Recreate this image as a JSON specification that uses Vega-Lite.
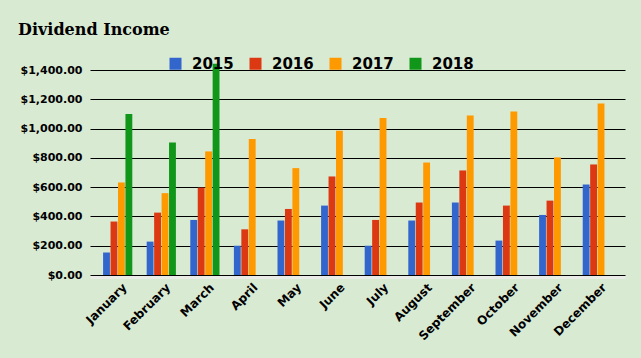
{
  "$schema": "https://vega.github.io/schema/vega-lite/v6.json",
  "width": 535,
  "height": 205,
  "autosize": {"type": "none"},
  "padding": {"left": 90, "top": 70, "right": 16, "bottom": 83},
  "background": "#d9ead3",
  "title": {"text": "Dividend Income", "anchor": "start", "font": "DejaVu Serif", "fontSize": 16, "fontWeight": "bold", "color": "#000000", "offset": 18, "dx": -2},
  "data": {"values": [
    {"month": "January", "year": "2015", "value": 153},
    {"month": "January", "year": "2016", "value": 365},
    {"month": "January", "year": "2017", "value": 632},
    {"month": "January", "year": "2018", "value": 1099},
    {"month": "February", "year": "2015", "value": 228},
    {"month": "February", "year": "2016", "value": 426},
    {"month": "February", "year": "2017", "value": 559},
    {"month": "February", "year": "2018", "value": 905},
    {"month": "March", "year": "2015", "value": 376},
    {"month": "March", "year": "2016", "value": 597},
    {"month": "March", "year": "2017", "value": 844},
    {"month": "March", "year": "2018", "value": 1443},
    {"month": "April", "year": "2015", "value": 200},
    {"month": "April", "year": "2016", "value": 312},
    {"month": "April", "year": "2017", "value": 928},
    {"month": "May", "year": "2015", "value": 372},
    {"month": "May", "year": "2016", "value": 451},
    {"month": "May", "year": "2017", "value": 730},
    {"month": "June", "year": "2015", "value": 474},
    {"month": "June", "year": "2016", "value": 673},
    {"month": "June", "year": "2017", "value": 985},
    {"month": "July", "year": "2015", "value": 200},
    {"month": "July", "year": "2016", "value": 376},
    {"month": "July", "year": "2017", "value": 1072},
    {"month": "August", "year": "2015", "value": 372},
    {"month": "August", "year": "2016", "value": 495},
    {"month": "August", "year": "2017", "value": 768},
    {"month": "September", "year": "2015", "value": 495},
    {"month": "September", "year": "2016", "value": 714},
    {"month": "September", "year": "2017", "value": 1090},
    {"month": "October", "year": "2015", "value": 235},
    {"month": "October", "year": "2016", "value": 474},
    {"month": "October", "year": "2017", "value": 1117},
    {"month": "November", "year": "2015", "value": 410},
    {"month": "November", "year": "2016", "value": 508},
    {"month": "November", "year": "2017", "value": 803},
    {"month": "December", "year": "2015", "value": 618},
    {"month": "December", "year": "2016", "value": 755},
    {"month": "December", "year": "2017", "value": 1172}
  ]},
  "mark": {"type": "bar"},
  "encoding": {
    "x": {
      "field": "month", "type": "nominal",
      "sort": ["January","February","March","April","May","June","July","August","September","October","November","December"],
      "scale": {"paddingInner": 0.33, "paddingOuter": 0.3},
      "axis": {"title": null, "labelAngle": -45, "labelAlign": "right", "labelBaseline": "middle", "labelFont": "DejaVu Sans", "labelFontSize": 12, "labelFontWeight": "bold", "labelColor": "#000000", "ticks": false, "tickSize": 0, "domain": true, "domainColor": "#e8ebe6", "domainWidth": 3, "offset": 2, "grid": false, "labelPadding": 8, "labelOffset": 7}
    },
    "xOffset": {"field": "year", "type": "nominal", "scale": {"paddingInner": 0.08}},
    "y": {
      "field": "value", "type": "quantitative",
      "scale": {"domain": [0, 1400], "nice": false},
      "axis": {"title": null, "values": [0,200,400,600,800,1000,1200,1400], "format": "$,.2f", "labelFont": "DejaVu Sans", "labelFontSize": 11, "labelFontWeight": "bold", "labelColor": "#000000", "ticks": false, "tickSize": 0, "domain": false, "grid": true, "gridColor": "#000000", "gridOpacity": 1, "gridWidth": 1, "labelPadding": 8}
    },
    "color": {
      "field": "year", "type": "nominal",
      "scale": {"domain": ["2015","2016","2017","2018"], "range": ["#3366cc","#dc3912","#ff9900","#109618"]},
      "legend": {"title": null, "orient": "none", "direction": "horizontal", "legendX": 78, "legendY": -14, "padding": 0, "symbolType": "square", "symbolSize": 144, "symbolStrokeWidth": 0, "symbolOpacity": 1, "labelFont": "DejaVu Sans", "labelFontSize": 15, "labelFontWeight": "bold", "labelColor": "#000000", "labelOffset": 9, "columnPadding": 14}
    }
  },
  "config": {"view": {"stroke": null}}
}
